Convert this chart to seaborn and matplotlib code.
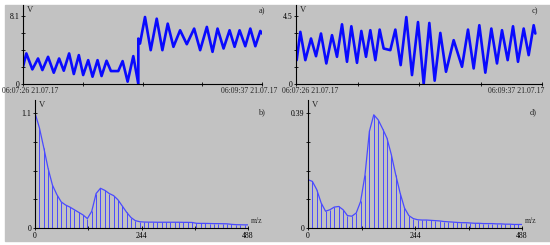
"""Four-panel signal figure: two time traces (a, c) and their spectra (b, d)."""
import numpy as np
import matplotlib
matplotlib.use("Agg")
import matplotlib.pyplot as plt
from matplotlib.patches import Rectangle
import seaborn as sns

# --- time traces (seconds from 06:07:26, volts) ---
t_a = [0.0, 1.83, 5.13, 8.24, 10.63, 13.74, 16.86, 19.79, 22.35, 25.28, 27.85,
       30.60, 32.98, 35.73, 38.11, 40.86, 43.06, 45.80, 48.19, 52.22, 54.60,
       57.35, 60.46, 63.21, 63.21, 64.13, 66.87, 69.99, 73.29, 76.40, 79.33,
       82.45, 86.11, 89.78, 93.81, 97.10, 100.77, 103.88, 106.63, 109.93,
       113.23, 115.97, 118.72, 121.84, 124.59, 127.34, 130.08, 131.0]
v_a = [2.05, 3.64, 1.74, 3.04, 1.66, 3.24, 1.34, 3.04, 1.58, 3.64, 1.19,
       3.44, 1.07, 2.84, 0.87, 2.84, 0.95, 2.77, 1.54, 1.54, 2.73,
       0.28, 3.32, 0.0, 5.41, 4.82, 7.98, 4.03, 7.78, 4.03, 7.19,
       4.43, 6.40, 4.74, 6.60, 4.03, 6.80, 3.83, 6.60, 4.23,
       6.40, 4.43, 6.40, 4.50, 6.60, 4.50, 6.32, 6.01]

t_c = [0.36, 2.31, 4.97, 7.99, 10.65, 13.31, 16.15, 19.17, 21.83, 24.50, 27.16,
       29.47, 32.48, 34.79, 37.28, 39.58, 42.25, 44.55, 46.68, 50.23, 52.90,
       55.74, 58.75, 61.77, 64.97, 67.99, 71.00, 73.84, 76.86, 79.88, 83.96,
       88.40, 91.59, 94.61, 97.63, 100.82, 104.02, 107.03, 109.70, 112.72,
       115.56, 118.22, 121.24, 123.90, 126.57, 127.45]
v_c = [1.58, 3.45, 1.58, 3.01, 1.84, 3.34, 1.36, 3.23, 1.80, 3.95, 1.47,
       3.82, 1.40, 3.51, 1.80, 3.56, 1.58, 3.60, 2.35, 2.24, 3.60,
       1.25, 4.43, 0.59, 4.10, 0.0, 4.04, 0.22, 3.38, 0.81, 2.90,
       1.14, 3.60, 1.03, 3.89, 0.75, 3.67, 1.36, 3.56, 1.58,
       3.82, 1.47, 3.67, 1.91, 3.89, 3.34]

# --- spectra (m/z, volts) ---
mz = list(range(0, 490, 10)) + [488]
spec_b = [1.10, 0.96, 0.77, 0.57, 0.41, 0.32, 0.25, 0.22, 0.20, 0.175, 0.15,
          0.125, 0.09, 0.16, 0.33, 0.38, 0.36, 0.33, 0.31, 0.27, 0.21, 0.15,
          0.10, 0.07, 0.06, 0.057, 0.056, 0.056, 0.055, 0.055, 0.055, 0.055,
          0.055, 0.055, 0.054, 0.054, 0.053, 0.045, 0.044, 0.044, 0.043,
          0.042, 0.042, 0.041, 0.040, 0.035, 0.032, 0.031, 0.030, 0.030]
spec_d = [0.164, 0.158, 0.13, 0.085, 0.057, 0.062, 0.071, 0.073, 0.062, 0.042,
          0.04, 0.051, 0.09, 0.18, 0.328, 0.384, 0.367, 0.337, 0.305, 0.249,
          0.181, 0.119, 0.068, 0.042, 0.032, 0.028, 0.027, 0.027, 0.026, 0.025,
          0.024, 0.022, 0.021, 0.020, 0.019, 0.018, 0.018, 0.017, 0.016, 0.016,
          0.015, 0.015, 0.015, 0.014, 0.014, 0.013, 0.013, 0.012, 0.012, 0.012]

T_START, T_END = "06:07:26 21.07.17", "06:09:37 21.07.17"
GRAY = "#c2c2c2"
FS = 5.6

sns.set_style("ticks")
plt.rcParams["font.family"] = ["Liberation Serif", "DejaVu Serif"]
plt.rcParams["font.size"] = FS

W, H = 550, 245
fig = plt.figure(figsize=(W / 100, H / 100), dpi=100, facecolor="white")
bg = Rectangle((5 / W, 4 / H), (W - 5) / W, (H - 9) / H,
               transform=fig.transFigure, color=GRAY, zorder=-10)
fig.patches.append(bg)


def px_axes(x0, x1, ytop, ybot):
    ax = fig.add_axes([x0 / W, (H - ybot) / H, (x1 - x0) / W, (ybot - ytop) / H])
    ax.set_zorder(5)
    ax.patch.set_alpha(0)
    for s in ("top", "right"):
        ax.spines[s].set_visible(False)
    for s in ("left", "bottom"):
        ax.spines[s].set_color("black")
        ax.spines[s].set_linewidth(0.8)
    ax.tick_params(direction="inout", length=3, width=0.6, labelsize=FS, pad=1.2,
                   colors="black")
    return ax


def decorate(ax, top, ymax, label, lab_y, tag_x):
    ax.set_ylim(0, ymax)
    ax.set_yticks(np.linspace(0, top, 5))
    ax.set_yticklabels(["0", "", "", "", f"{top:g}"])
    ax.set_xlabel(""); ax.set_ylabel("")
    ax.annotate("V", xy=(0, 1), xycoords="axes fraction", xytext=(2.5, -1),
                textcoords="offset points", ha="left", va="top", fontsize=FS + 0.6)
    fig.text(tag_x / W, 1 - lab_y / H, label, ha="center", va="center",
             fontsize=FS + 0.4, zorder=6)


# top traces: (left px, right px, t, v, top value, tag, tag x, start-label offset, end-label offset)
for (x0, x1, tt, vv, top, lab, tag_x, off0, off1) in [
        (23, 262, t_a, v_a, 8.1, "a)", 262, -15, 11),
        (296, 542, t_c, v_c, 4.5, "c)", 535, -10, 2)]:
    ax = px_axes(x0, x1, 5, 84)
    sns.lineplot(x=tt, y=vv, ax=ax, color="#0a0aff", lw=1.9, estimator=None, sort=False)
    for ln in ax.get_lines():
        ln.set_solid_joinstyle("round")
    ax.set_xlim(0, 131)
    ax.set_xticks(np.linspace(0, 131, 5))
    ax.set_xticklabels([])
    decorate(ax, top, top * 79 / 68, lab, 11, tag_x)
    ax.annotate(T_START, xy=(0, 0), xycoords="axes fraction", xytext=(off0, -2.5),
                textcoords="offset points", ha="left", va="top", fontsize=FS)
    ax.annotate(T_END, xy=(1, 0), xycoords="axes fraction", xytext=(off1, -2.5),
                textcoords="offset points", ha="right", va="top", fontsize=FS)

# bottom spectra
for (x0, x1, spec, top, lab, tag_x) in [(35, 248, spec_b, 1.1, "b)", 261),
                                        (308, 522, spec_d, 0.39, "d)", 533)]:
    ax = px_axes(x0, x1, 100, 228)
    ax.vlines(mz, 0, spec, color="#4a4aff", lw=0.7)
    sns.lineplot(x=mz, y=spec, ax=ax, color="#4a4aff", lw=0.9, estimator=None, sort=False)
    ax.set_xlim(0, 488)
    ax.set_xticks(np.linspace(0, 488, 5))
    ax.set_xticklabels(["0", "", "244", "", "488"])
    decorate(ax, top, top * 128 / 115, lab, 112, tag_x)
    ax.annotate("m/z", xy=(1, 0), xycoords="axes fraction", xytext=(2, 2),
                textcoords="offset points", ha="left", va="bottom", fontsize=FS)

fig.savefig("out.png", dpi=100, facecolor="white")
